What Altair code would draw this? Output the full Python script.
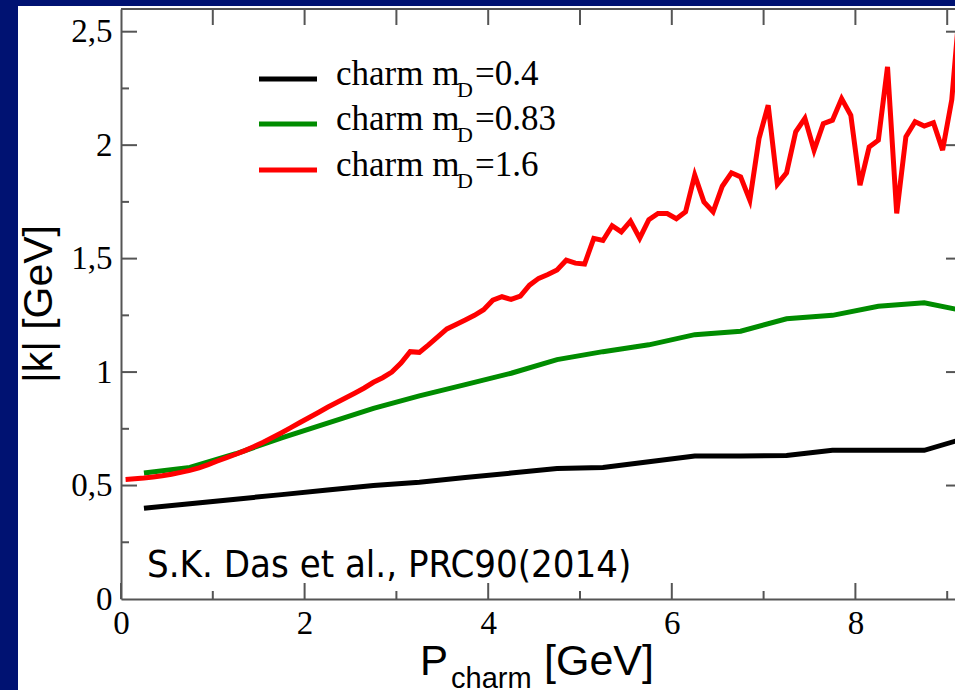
import altair as alt
import pandas as pd

# ---- data -----------------------------------------------------------------
# coarse momentum grid (GeV) for the two smoother curves
p_coarse = [0.25, 0.75, 1.25, 1.75, 2.25, 2.75, 3.25, 3.75, 4.25, 4.75,
            5.25, 5.75, 6.25, 6.75, 7.25, 7.75, 8.25, 8.75, 9.25]
k_md_04 = [0.400, 0.420, 0.440, 0.460, 0.480, 0.500, 0.515, 0.535, 0.555, 0.575,
           0.580, 0.605, 0.630, 0.630, 0.632, 0.655, 0.655, 0.655, 0.715]
k_md_083 = [0.555, 0.580, 0.640, 0.710, 0.775, 0.840, 0.895, 0.945, 0.995, 1.055,
            1.090, 1.120, 1.165, 1.180, 1.235, 1.250, 1.290, 1.305, 1.265]

# fine momentum grid (GeV) for the noisy m_D = 1.6 curve
p_fine = [0.05, 0.15, 0.25, 0.35, 0.45, 0.55, 0.65, 0.75, 0.85, 0.95,
          1.05, 1.15, 1.25, 1.35, 1.45, 1.55, 1.65, 1.75, 1.85, 1.95,
          2.05, 2.15, 2.25, 2.35, 2.45, 2.55, 2.65, 2.75, 2.85, 2.95,
          3.05, 3.15, 3.25, 3.35, 3.45, 3.55, 3.65, 3.75, 3.85, 3.95,
          4.05, 4.15, 4.25, 4.35, 4.45, 4.55, 4.65, 4.75, 4.85, 4.95,
          5.05, 5.15, 5.25, 5.35, 5.45, 5.55, 5.65, 5.75, 5.85, 5.95,
          6.05, 6.15, 6.25, 6.35, 6.45, 6.55, 6.65, 6.75, 6.85, 6.95,
          7.05, 7.15, 7.25, 7.35, 7.45, 7.55, 7.65, 7.75, 7.85, 7.95,
          8.05, 8.15, 8.25, 8.35, 8.45, 8.55, 8.65, 8.75, 8.85, 8.95,
          9.05, 9.15]
k_md_16 = [0.527, 0.530, 0.533, 0.538, 0.543, 0.550, 0.558, 0.567, 0.578, 0.592,
           0.608, 0.623, 0.638, 0.654, 0.672, 0.691, 0.712, 0.733, 0.755, 0.778,
           0.800, 0.822, 0.845, 0.866, 0.887, 0.908, 0.930, 0.955, 0.975, 1.000,
           1.040, 1.090, 1.087, 1.120, 1.155, 1.190, 1.210, 1.230, 1.250, 1.275,
           1.317, 1.332, 1.320, 1.335, 1.383, 1.413, 1.430, 1.450, 1.493, 1.480,
           1.476, 1.589, 1.580, 1.645, 1.618, 1.665, 1.590, 1.672, 1.699, 1.699,
           1.676, 1.706, 1.868, 1.750, 1.706, 1.819, 1.878, 1.860, 1.758, 2.029,
           2.176, 1.828, 1.878, 2.059, 2.118, 1.978, 2.095, 2.110, 2.205, 2.132,
           1.824, 1.992, 2.022, 2.345, 1.699, 2.037, 2.103, 2.084, 2.099, 1.978,
           2.200, 2.680]

series_colors = ["#000000", "#008c00", "#ff0000"]
legend_values = ["=0.4", "=0.83", "=1.6"]

# axis tick positions
x_label_ticks = [0, 2, 4, 6, 8]
x_minor_ticks = [1, 3, 5, 7, 9]
x_top_ticks = [1, 2, 3, 4, 5, 6, 7, 8, 9]
y_major_ticks = [0, 0.5, 1.0, 1.5, 2.0, 2.5]
y_minor_ticks = [0.25, 0.75, 1.25, 1.75, 2.25]

# ---- layout ---------------------------------------------------------------
W, H = 834, 590
PAD = {"left": 121, "top": 9, "right": 0, "bottom": 91}
NAVY = "#001272"
AXIS_GREY = "#555555"
SERIF = "Liberation Serif"
SANS = "Liberation Sans"

xs = alt.Scale(domain=[0, 9.085], nice=False, zero=False)
ys = alt.Scale(domain=[0, 2.6], nice=False, zero=False)

# axes are drawn above the white page layer (zindex=1)
x_axis = alt.Axis(values=x_label_ticks, ticks=False, tickSize=0, grid=False,
                  domainColor=AXIS_GREY, domainWidth=2, labelFont=SERIF,
                  labelFontSize=33, labelColor="black", labelPadding=8,
                  labelFlush=False, title=None, zindex=1)
y_axis = alt.Axis(values=y_major_ticks, ticks=False, tickSize=0, grid=False,
                  domainColor=AXIS_GREY, domainWidth=2, labelFont=SERIF,
                  labelFontSize=33, labelColor="black", labelPadding=9,
                  format=".1~f", labelExpr="replace(datum.label, '.', ',')",
                  title=None, zindex=1)

one = pd.DataFrame({"a": [0]})

# white page behind the plot frame
page = alt.Chart(one).mark_rect(color="white").encode(
    x=alt.value(-103), x2=alt.value(W), y=alt.value(-3), y2=alt.value(H + PAD["bottom"])
)


def curve(p, k, color):
    df = pd.DataFrame({"p": p, "k": k})
    return alt.Chart(df).mark_line(color=color, strokeWidth=5, clip=True,
                                   strokeJoin="miter").encode(
        x=alt.X("p:Q", scale=xs, axis=x_axis),
        y=alt.Y("k:Q", scale=ys, axis=y_axis),
    )


black = curve(p_coarse, k_md_04, series_colors[0])
green = curve(p_coarse, k_md_083, series_colors[1])
red = curve(p_fine, k_md_16, series_colors[2])


def x_ticks(vals, y0, y1):
    return alt.Chart(pd.DataFrame({"v": vals})).mark_rule(
        color=AXIS_GREY, strokeWidth=2).encode(
        x=alt.X("v:Q", scale=xs, axis=x_axis), y=alt.value(y0), y2=alt.value(y1))


def y_ticks(vals, x0, x1):
    return alt.Chart(pd.DataFrame({"v": vals})).mark_rule(
        color=AXIS_GREY, strokeWidth=2).encode(
        y=alt.Y("v:Q", scale=ys, axis=y_axis), x=alt.value(x0), x2=alt.value(x1))


ticks = [
    x_ticks(x_label_ticks, H, H - 16),
    x_ticks(x_minor_ticks, H, H - 8),
    x_ticks(x_top_ticks, 0, 16),
    y_ticks(y_major_ticks[1:], 0, 16),
    y_ticks(y_minor_ticks, 0, 8),
    y_ticks(y_major_ticks[1:], W - 9, W),
]

top_line = alt.Chart(one).mark_rule(color=AXIS_GREY, strokeWidth=2).encode(
    x=alt.value(0), x2=alt.value(W), y=alt.value(0))

# legend: short line samples with "charm m_D=..." labels
legend_layers = []
row_y = [70, 115, 161]
for i in range(3):
    y = row_y[i]
    legend_layers.append(alt.Chart(one).mark_rule(
        color=series_colors[i], strokeWidth=5).encode(
        x=alt.value(138), x2=alt.value(196), y=alt.value(y)))
    legend_layers.append(alt.Chart(one).mark_text(
        text="charm m", font=SERIF, fontSize=35, align="left",
        baseline="alphabetic", color="black").encode(
        x=alt.value(215), y=alt.value(y + 6)))
    legend_layers.append(alt.Chart(one).mark_text(
        text="D", font=SERIF, fontSize=22, align="left",
        baseline="alphabetic", color="black").encode(
        x=alt.value(336), y=alt.value(y + 18)))
    legend_layers.append(alt.Chart(one).mark_text(
        text=legend_values[i], font=SERIF, fontSize=35, align="left",
        baseline="alphabetic", color="black").encode(
        x=alt.value(354), y=alt.value(y + 6)))

# axis titles
y_title = alt.Chart(one).mark_text(
    text="|k| [GeV]", font=SANS, fontSize=41, angle=270, align="center",
    baseline="middle", color="black").encode(x=alt.value(-81), y=alt.value(H / 2))
x_title_p = alt.Chart(one).mark_text(
    text="P", font=SANS, fontSize=42, align="left", baseline="alphabetic",
    color="black").encode(x=alt.value(299), y=alt.value(666))
x_title_sub = alt.Chart(one).mark_text(
    text="charm", font=SANS, fontSize=29, align="left", baseline="alphabetic",
    color="black").encode(x=alt.value(330), y=alt.value(679))
x_title_unit = alt.Chart(one).mark_text(
    text="[GeV]", font=SANS, fontSize=43, align="left", baseline="alphabetic",
    color="black").encode(x=alt.value(423), y=alt.value(666))

reference = alt.Chart(one).mark_text(
    text="S.K. Das et al., PRC90(2014)",
    font="DejaVu Sans Condensed, Liberation Sans",
    fontSize=38, align="left", baseline="alphabetic", color="black").encode(
    x=alt.value(26), y=alt.value(568))

chart = alt.layer(
    page, black, green, red, *ticks, top_line, *legend_layers,
    y_title, x_title_p, x_title_sub, x_title_unit, reference,
).properties(
    width=W, height=H, padding=PAD,
    autosize=alt.AutoSizeParams(type="none"),
    background=NAVY,
).configure_view(stroke=None)

chart.save("out.html", embed_options={"renderer": "svg", "actions": False})
